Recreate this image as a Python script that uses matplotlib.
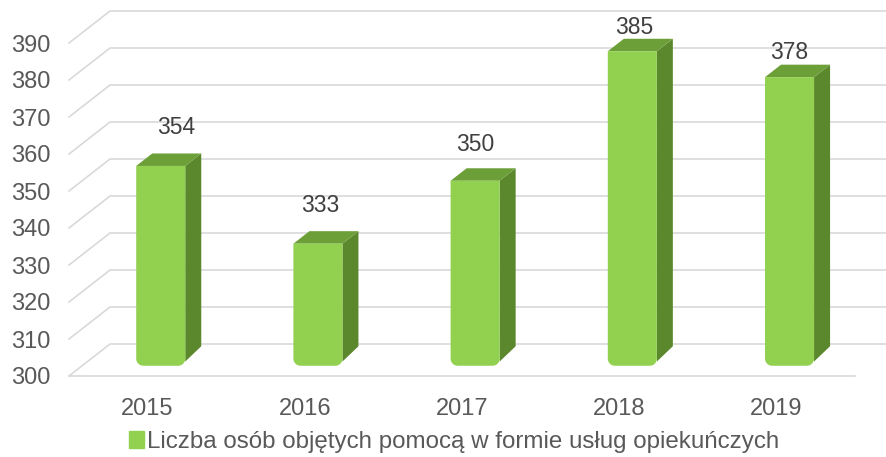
import numpy as np
import matplotlib.pyplot as plt
from matplotlib.patches import Polygon, Patch

# dane
years = ['2015', '2016', '2017', '2018', '2019']
values = [354, 333, 350, 385, 378]
series_name = 'Liczba osób objętych pomocą w formie usług opiekuńczych'
yticks = list(range(300, 391, 10))

# przesunięcia etykiet danych (piksele), tak jak w oryginale
label_dx = [15, 2, 0, 2, 0]
label_dy = [38, 38, 36, 24, 25]

plt.rcParams['font.family'] = ['Liberation Sans', 'DejaVu Sans']

FRONT = '#92D050'
SIDE = '#5B882D'
TOP = '#6C9F37'
GRID = '#D9D9D9'

fig = plt.figure(figsize=(8.87, 4.57), dpi=100)
ax = fig.add_axes([69 / 887, 81 / 457, 786 / 887, 333 / 457])
ax.set_xlim(-0.5, 4.5)
ax.set_ylim(300, 390)

# głębokość "3D" w jednostkach osi
DX = 0.261
DY = 8.65
x_end = 4.5 + DX

# siatka: ściana boczna + ściana tylna
for v in yticks:
    ax.plot([-0.5, -0.5 + DX, x_end], [v, v + DY, v + DY],
            color=GRID, lw=1.2, clip_on=False, zorder=1)
ax.plot([-0.5, 4.5], [yticks[0], yticks[0]], color=GRID, lw=1.2,
        clip_on=False, zorder=1)

# słupki
f0, f1 = 0.32, 0.71
bw = 0.312
rx, ry = 0.045, 1.9
base = yticks[0]
for i, v in enumerate(values):
    x0 = i - bw / 2 + f0 * DX
    x1 = x0 + bw
    y0 = base + f0 * DY
    top = v + f0 * DY
    sx = (f1 - f0) * DX
    sy = (f1 - f0) * DY

    # bok
    side = Polygon([(x1, top), (x1 + sx, top + sy), (x1 + sx, y0 + sy + ry),
                    (x1, y0 + ry * 0.6)], closed=True, fc=SIDE, ec='none',
                   clip_on=False, zorder=3)
    ax.add_patch(side)
    # góra
    topf = Polygon([(x0, top), (x1, top), (x1 + sx, top + sy), (x0 + sx, top + sy)],
                   closed=True, fc=TOP, ec='none', clip_on=False, zorder=3)
    ax.add_patch(topf)
    # przód z zaokrąglonym dołem
    t = np.linspace(np.pi, 1.5 * np.pi, 8)
    left_arc = [(x0 + rx + rx * np.cos(a), y0 + ry + ry * np.sin(a)) for a in t]
    t2 = np.linspace(1.5 * np.pi, 2 * np.pi, 8)
    right_arc = [(x1 - rx + rx * np.cos(a), y0 + ry + ry * np.sin(a)) for a in t2]
    pts = [(x0, top)] + left_arc + right_arc + [(x1, top)]
    front = Polygon(pts, closed=True, fc=FRONT, ec='none', clip_on=False, zorder=4)
    ax.add_patch(front)

    ax.annotate(str(v), xy=((x0 + x1) / 2, top),
                xytext=(label_dx[i], label_dy[i]), textcoords='offset pixels',
                ha='center', va='center', fontsize=16.5, color='#404040',
                annotation_clip=False, zorder=5)

ax.set_yticks(yticks)
ax.set_xticks(range(len(years)))
ax.set_xticklabels(years)
ax.tick_params(axis='y', length=0, pad=13, labelsize=17, labelcolor='#595959')
ax.tick_params(axis='x', length=0, pad=16, labelsize=17, labelcolor='#595959')
for s in ax.spines.values():
    s.set_visible(False)

fig.legend(handles=[Patch(color=FRONT)], labels=[series_name], loc='center',
           bbox_to_anchor=(454 / 887, 1 - 442 / 457), frameon=False, fontsize=17.4,
           handlelength=0.65, handleheight=0.65, handletextpad=0.12,
           labelcolor='#595959')

fig.savefig('out.png', dpi=100)
